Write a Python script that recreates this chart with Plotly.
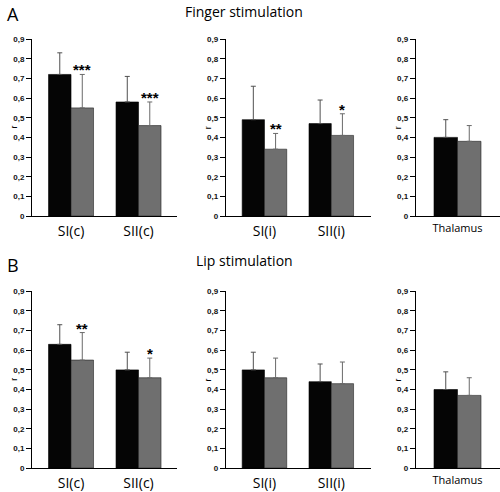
import plotly.graph_objects as go

# ---- data ----
regions = ["SI(c)", "SII(c)", "SI(i)", "SII(i)", "Thalamus"]
panel_groups = [[0, 1], [2, 3], [4]]

finger_black = [0.72, 0.58, 0.49, 0.47, 0.40]
finger_black_err = [0.11, 0.13, 0.17, 0.12, 0.09]
finger_gray = [0.55, 0.46, 0.34, 0.41, 0.38]
finger_gray_err = [0.17, 0.12, 0.08, 0.11, 0.08]
finger_sig = ["***", "***", "**", "*", ""]

lip_black = [0.63, 0.50, 0.50, 0.44, 0.40]
lip_black_err = [0.10, 0.09, 0.09, 0.09, 0.09]
lip_gray = [0.55, 0.46, 0.46, 0.43, 0.37]
lip_gray_err = [0.14, 0.10, 0.10, 0.11, 0.09]
lip_sig = ["**", "*", "", "", ""]

ytick_vals = [0, 0.1, 0.2, 0.3, 0.4, 0.5, 0.6, 0.7, 0.8, 0.9]
ytick_text = ["0", "0,1", "0,2", "0,3", "0,4", "0,5", "0,6", "0,7", "0,8", "0,9"]

rows = [
    ("Finger stimulation", "A", finger_black, finger_black_err, finger_gray, finger_gray_err, finger_sig),
    ("Lip stimulation", "B", lip_black, lip_black_err, lip_gray, lip_gray_err, lip_sig),
]

# ---- layout geometry ----
W, H = 500, 492
x_domains = [(32 / W, 177 / W), (225.7 / W, 370.7 / W), (415.7 / W, 1.0)]
x_ranges = [[-0.578, 1.57], [-0.58, 1.59], [-0.593, 0.603]]
y_domains = [((H - 216) / H, (H - 35.7) / H), ((H - 472.7) / H, (H - 292.7) / H)]

BLACK = "#050505"
GRAY = "#6f6f6f"
LABEL_FONT = "Open Sans, Noto Sans, sans-serif"

fig = go.Figure()
layout = dict(
    width=W, height=H, margin=dict(l=0, r=0, t=0, b=0),
    paper_bgcolor="white", plot_bgcolor="white",
    barmode="group", bargap=1 / 3, bargroupgap=0,
    showlegend=False,
)
annotations = []

ax = 0
for r, (title, letter, bvals, berr, gvals, gerr, sig) in enumerate(rows):
    for p, idxs in enumerate(panel_groups):
        ax += 1
        xa = "x" if ax == 1 else f"x{ax}"
        ya = "y" if ax == 1 else f"y{ax}"
        cats = [regions[i] for i in idxs]
        fig.add_trace(go.Bar(
            x=cats, y=[bvals[i] for i in idxs], xaxis=xa, yaxis=ya,
            marker=dict(color=BLACK, line=dict(color="black", width=0.6)),
            error_y=dict(type="data", symmetric=False, array=[berr[i] for i in idxs],
                         arrayminus=[0] * len(idxs), color="#505050", thickness=1, width=2.5),
        ))
        fig.add_trace(go.Bar(
            x=cats, y=[gvals[i] for i in idxs], xaxis=xa, yaxis=ya,
            marker=dict(color=GRAY, line=dict(color="#222222", width=0.6)),
            error_y=dict(type="data", symmetric=False, array=[gerr[i] for i in idxs],
                         arrayminus=[0] * len(idxs), color="#6a6a6a", thickness=1, width=2.5),
        ))
        key = "xaxis" if ax == 1 else f"xaxis{ax}"
        ykey = "yaxis" if ax == 1 else f"yaxis{ax}"
        layout[key] = dict(
            domain=list(x_domains[p]), anchor=ya, range=x_ranges[p], type="category",
            showline=True, linecolor="black", linewidth=1, ticks="", showgrid=False,
            zeroline=False, fixedrange=True, ticklabelstandoff=2,
            tickfont=dict(family=LABEL_FONT, size=(11 if p == 2 else 14), color="black"),
        )
        layout[ykey] = dict(
            domain=list(y_domains[r]), anchor=xa, range=[0, 0.9],
            showline=True, linecolor="black", linewidth=1, showgrid=False, zeroline=False,
            ticks="outside", ticklen=5, tickcolor="black", tickwidth=1,
            tickvals=ytick_vals, ticktext=ytick_text,
            tickfont=dict(family="Liberation Sans, Arial, sans-serif", size=8, color="#111111", weight="bold"),
            fixedrange=True,
        )
        # y axis label "r"
        annotations.append(dict(
            text="r", xref=f"{xa} domain", yref=ya, x=0, y=0.45, xshift=-25,
            showarrow=False, textangle=-90, font=dict(family="Liberation Sans, Arial", size=9, color="black"),
        ))
        # significance stars over gray bars
        for k, i in enumerate(idxs):
            if sig[i]:
                annotations.append(dict(
                    text=sig[i], xref=xa, yref=ya, x=k + 1 / 6, y=gvals[i] + gerr[i],
                    yanchor="bottom", yshift=-6, showarrow=False,
                    font=dict(family="Liberation Sans, Arial", size=15, color="black", weight="bold"),
                ))
    # row title and letter
    top_px = 8 if r == 0 else 261
    annotations.append(dict(
        text=title, xref="paper", yref="paper", x=244 / W, y=1 - top_px / H,
        xanchor="center", yanchor="middle", showarrow=False,
        font=dict(family=LABEL_FONT, size=14, color="black"),
    ))
    letter_px = 10 if r == 0 else 266
    annotations.append(dict(
        text=letter, xref="paper", yref="paper", x=5 / W, y=1 - letter_px / H,
        xanchor="left", yanchor="middle", showarrow=False,
        font=dict(family=LABEL_FONT, size=18, color="black"),
    ))

layout["annotations"] = annotations
fig.update_layout(**layout)
fig.write_html(
    "out.html",
    config={"displayModeBar": False, "staticPlot": True},
    post_script="document.body.style.margin='0';document.body.style.overflow='hidden';",
)
